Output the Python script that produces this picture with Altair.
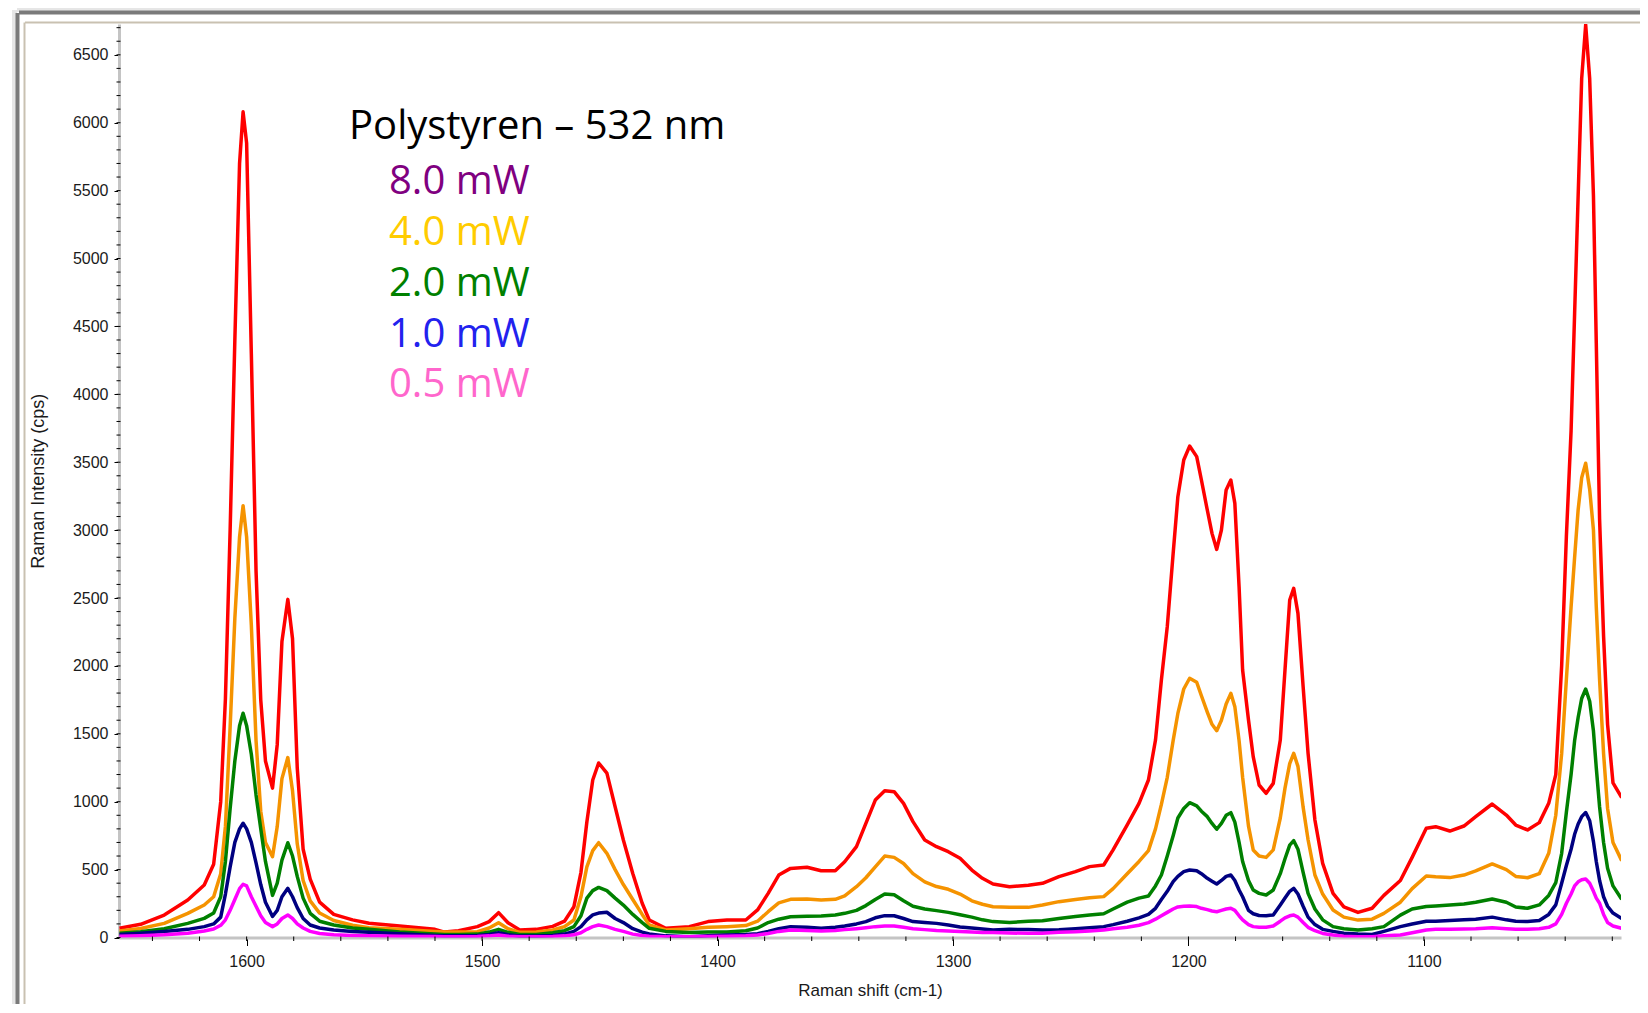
import altair as alt
import pandas as pd

# ---------------- data ----------------
shift = [1654, 1645, 1635, 1625, 1618, 1614, 1611, 1609, 1607, 1605,
         1603, 1601.5, 1600, 1598, 1596, 1594, 1592, 1589, 1587, 1585,
         1582.5, 1580.5, 1578.5, 1576, 1573, 1569, 1563, 1555, 1548, 1535,
         1520, 1516, 1510, 1502, 1497, 1493, 1489, 1484, 1477, 1470,
         1465, 1461, 1458, 1455.5, 1453, 1450.5, 1447, 1443.5, 1440, 1436,
         1432, 1429, 1422, 1412, 1404, 1396, 1388, 1383, 1378.5, 1374,
         1369, 1362, 1356, 1350, 1346, 1341, 1337, 1333, 1329, 1325,
         1321, 1317, 1312, 1307, 1302, 1297, 1292, 1287.5, 1283, 1276,
         1268, 1262, 1255, 1248, 1242, 1236, 1232, 1226, 1221, 1217,
         1214, 1211.5, 1209, 1206.5, 1204.5, 1202, 1199.5, 1196.5, 1194.5, 1192,
         1190, 1188, 1186, 1184, 1182, 1180.3, 1178.5, 1177, 1174.5, 1172.5,
         1170, 1167, 1164, 1161, 1159, 1157, 1155.3, 1153.5, 1151.3, 1149.2,
         1146.3, 1143, 1138.6, 1134, 1128, 1122, 1117, 1110, 1105, 1099,
         1095, 1089, 1083, 1078, 1071, 1065, 1061, 1056, 1051, 1047,
         1044, 1041.5, 1039.5, 1037.5, 1036, 1034.5, 1033, 1031.3, 1029.6, 1028,
         1026.8, 1025.4, 1023.7, 1022, 1019.7, 1016]

int_8mw = [68, 97, 165, 276, 387, 540, 1000, 1760, 3000, 4400,
           5700, 6080, 5850, 4300, 2700, 1750, 1300, 1100, 1420, 2180,
           2490, 2200, 1250, 650, 430, 260, 170, 130, 105, 85,
           60, 40, 50, 80, 117, 183, 109, 55, 60, 82,
           120, 227, 480, 850, 1160, 1285, 1210, 963, 718, 472,
           252, 129, 68, 80, 117, 129, 129, 203, 325, 460,
           509, 517, 492, 492, 558, 669, 841, 1012, 1081, 1074,
           988, 853, 718, 669, 632, 583, 497, 436, 394, 374,
           385, 399, 448, 485, 522, 534, 645, 829, 988, 1160,
           1454, 1896, 2289, 2829, 3246, 3516, 3619, 3541, 3369, 3148,
           2976, 2858, 3001, 3295, 3369, 3197, 2583, 1970, 1602, 1332,
           1123, 1062, 1135, 1454, 1970, 2485, 2571, 2387, 1847, 1356,
           865, 546, 325, 225, 185, 215, 310, 420, 590, 804,
           816, 784, 821, 890, 983, 902, 828, 792, 846, 988,
           1200, 2002, 2953, 3731, 4595, 5460, 6324, 6720, 6324, 5460,
           4379, 3083, 2219, 1570, 1138, 1030]

int_4mw = [48, 66, 104, 178, 239, 300, 470, 820, 1550, 2350,
           2950, 3180, 2950, 2300, 1450, 930, 700, 595, 817, 1170,
           1325, 1080, 690, 420, 270, 180, 125, 90, 72, 60,
           45, 40, 40, 43, 70, 109, 65, 38, 40, 55,
           80, 129, 301, 520, 640, 698, 620, 500, 390, 280,
           170, 92, 55, 65, 75, 80, 88, 120, 190, 255,
           281, 283, 276, 281, 306, 374, 440, 520, 600, 590,
           545, 470, 410, 375, 355, 320, 270, 245, 227, 222,
           222, 240, 264, 280, 292, 301, 360, 470, 560, 640,
           800, 980, 1180, 1450, 1650, 1830, 1909, 1880, 1780, 1660,
           1570, 1523, 1600, 1720, 1798, 1700, 1450, 1180, 820, 645,
           600, 590, 645, 880, 1100, 1280, 1356, 1260, 960, 720,
           460, 320, 203, 150, 128, 135, 178, 260, 360, 453,
           447, 441, 460, 490, 542, 500, 450, 440, 470, 620,
           900, 1354, 1900, 2435, 2800, 3150, 3385, 3493, 3300, 3000,
           2435, 1900, 1354, 950, 700, 566]

int_2mw = [31, 42, 65, 104, 141, 180, 300, 560, 950, 1300,
           1560, 1651, 1560, 1350, 1050, 800, 560, 310, 400, 570,
           698, 600, 450, 290, 178, 120, 92, 70, 60, 40,
           25, 22, 23, 25, 40, 60, 38, 23, 23, 35,
           50, 80, 160, 290, 345, 369, 345, 290, 239, 170,
           110, 68, 45, 36, 40, 41, 50, 70, 110, 135,
           153, 156, 158, 165, 178, 200, 235, 280, 320, 315,
           270, 230, 210, 198, 185, 168, 150, 130, 117, 110,
           120, 124, 140, 155, 165, 175, 210, 260, 290, 305,
           380, 460, 600, 750, 880, 950, 993, 970, 930, 890,
           840, 797, 840, 900, 919, 850, 700, 560, 420, 350,
           325, 313, 350, 470, 580, 680, 713, 650, 480, 325,
           210, 130, 80, 65, 55, 65, 80, 165, 210, 228,
           232, 240, 247, 260, 284, 260, 225, 215, 240, 310,
           404, 620, 922, 1200, 1450, 1620, 1760, 1830, 1740, 1520,
           1250, 963, 700, 510, 380, 281]

int_1mw = [22, 32, 45, 60, 80, 100, 150, 320, 520, 700,
           800, 841, 800, 700, 550, 390, 260, 155, 200, 300,
           362, 300, 220, 140, 92, 70, 55, 45, 38, 28,
           15, 12, 12, 14, 22, 36, 20, 11, 11, 15,
           25, 45, 80, 130, 166, 180, 186, 140, 110, 65,
           40, 26, 12, 6, 12, 18, 22, 28, 45, 65,
           80, 75, 68, 75, 85, 100, 117, 145, 161, 160,
           140, 117, 110, 104, 92, 78, 70, 62, 55, 60,
           58, 55, 57, 65, 72, 80, 95, 120, 145, 170,
           215, 280, 340, 411, 450, 485, 497, 492, 470, 436,
           415, 394, 420, 450, 460, 420, 350, 300, 200, 175,
           162, 160, 166, 240, 290, 340, 362, 320, 230, 150,
           95, 60, 45, 32, 25, 22, 45, 80, 100, 120,
           120, 125, 130, 135, 150, 130, 120, 118, 125, 170,
           240, 400, 530, 650, 760, 836, 890, 920, 860, 706,
           560, 420, 300, 230, 180, 140]

int_05mw = [10, 13, 20, 31, 48, 62, 90, 130, 200, 280,
            360, 392, 380, 300, 230, 160, 110, 80, 100, 140,
            166, 140, 100, 70, 45, 30, 20, 15, 12, 10,
            8, 6, 6, 8, 12, 18, 10, 6, 6, 8,
            12, 20, 35, 60, 80, 92, 80, 60, 45, 25,
            14, 10, 6, 5, 8, 10, 12, 18, 30, 45,
            55, 52, 48, 52, 58, 65, 72, 80, 85, 85,
            75, 65, 58, 52, 48, 44, 40, 36, 36, 33,
            31, 32, 38, 42, 48, 55, 65, 75, 90, 110,
            135, 160, 185, 210, 225, 230, 232, 228, 215, 205,
            195, 190, 200, 210, 215, 200, 160, 130, 95, 80,
            75, 75, 85, 120, 145, 160, 166, 150, 110, 75,
            50, 30, 18, 10, 6, 6, 12, 18, 35, 55,
            60, 60, 62, 65, 72, 65, 60, 60, 65, 75,
            100, 170, 252, 320, 380, 410, 425, 431, 400, 340,
            290, 252, 170, 110, 85, 68]

series_names = ["8.0 mW", "4.0 mW", "2.0 mW", "1.0 mW", "0.5 mW"]
series_values = [int_8mw, int_4mw, int_2mw, int_1mw, int_05mw]
line_colors = ["#ff0000", "#f59300", "#008000", "#000080", "#ff00ff"]
label_colors = ["#800080", "#ffcc00", "#008000", "#2222ee", "#ff66cc"]
title_text = "Polystyren \u2013 532 nm"

x_ticks = [1600, 1500, 1400, 1300, 1200, 1100]
y_ticks = list(range(0, 6501, 500))
x_minor = list(range(1640, 1019, -20))
y_minor = list(range(0, 6701, 100))

for v in series_values:
    assert len(v) == len(shift), (len(v), len(shift))

# ---------------- layout constants ----------------
W, H = 1502, 913.5
FONT = "Liberation Sans"
xscale = alt.Scale(domain=[1016.3, 1654.2], reverse=True, nice=False, zero=False)
yscale = alt.Scale(domain=[0, 6727], nice=False, zero=False)

x_axis = alt.Axis(values=x_ticks, format="d", title="Raman shift (cm-1)", grid=False,
                  labelFont=FONT, labelFontSize=16, labelColor="#1a1a1a", labelPadding=8,
                  labelFlush=False, tickColor="#000000", tickSize=8, tickWidth=1,
                  domainColor="#c4c4c4", domainWidth=3,
                  titleFont=FONT, titleFontSize=17, titleFontWeight="normal",
                  titleColor="#1a1a1a", titleY=52.5, titleBaseline="middle")
y_axis = alt.Axis(values=y_ticks, format="d", title="Raman Intensity (cps)", grid=False,
                  labelFont=FONT, labelFontSize=16, labelColor="#1a1a1a", labelPadding=6,
                  labelFlush=False, tickColor="#000000", tickSize=5, tickWidth=1,
                  domainColor="#c4c4c4", domainWidth=3,
                  titleFont=FONT, titleFontSize=18, titleFontWeight="normal",
                  titleColor="#1a1a1a", titleX=-81, titleY=H / 2, titleBaseline="middle")

# spectra first so that they own the axes
line_layers = []
for name, vals, col in zip(series_names, series_values, line_colors):
    df = pd.DataFrame({"shift": shift, "intensity": vals, "power": name})
    line_layers.append(
        alt.Chart(df).mark_line(color=col, strokeWidth=3.5, clip=True, strokeJoin="round").encode(
            x=alt.X("shift:Q", scale=xscale, axis=x_axis),
            y=alt.Y("intensity:Q", scale=yscale, axis=y_axis),
        )
    )

# window-like frame decoration
one = pd.DataFrame({"a": [0]})
def hline(y, x1, x2, color, w):
    return alt.Chart(one).mark_rule(color=color, strokeWidth=w).encode(
        x=alt.value(x1), x2=alt.value(x2), y=alt.value(y))
def vline(x, y1, y2, color, w):
    return alt.Chart(one).mark_rule(color=color, strokeWidth=w).encode(
        y=alt.value(y1), y2=alt.value(y2), x=alt.value(x))

deco = [
    hline(-14.5, -102, 1540, "#e6e6e6", 5),
    hline(-11.5, -100, 1540, "#7a7a7a", 4),
    hline(-1.5, -94, 1540, "#c9c1b1", 2),
    vline(-104.5, -14, 990, "#e6e6e6", 5),
    vline(-101.5, -11, 990, "#7a7a7a", 4),
    vline(-94.5, -1.5, 990, "#c9c1b1", 2),
]

# minor ticks (same axis objects so the shared axes merge cleanly)
minor_y = alt.Chart(pd.DataFrame({"v": y_minor})).mark_rule(color="#000000", strokeWidth=1).encode(
    y=alt.Y("v:Q", scale=yscale, axis=y_axis), x=alt.value(-2.5), x2=alt.value(1.5))
minor_x = alt.Chart(pd.DataFrame({"v": x_minor})).mark_rule(color="#000000", strokeWidth=1).encode(
    x=alt.X("v:Q", scale=xscale, axis=x_axis), y=alt.value(H - 1), y2=alt.value(H + 3.5))

# annotation text
texts = [
    alt.Chart(pd.DataFrame({"t": [title_text]})).mark_text(
        font="Open Sans", fontSize=40, color="#000000", align="left", baseline="alphabetic"
    ).encode(text="t:N", x=alt.value(230), y=alt.value(115))
]
label_baselines = [169.5, 220.5, 271.5, 322.5, 373]
for name, col, yb in zip(series_names, label_colors, label_baselines):
    texts.append(
        alt.Chart(pd.DataFrame({"t": [name]})).mark_text(
            font="Open Sans", fontSize=40, color=col, align="left", baseline="alphabetic"
        ).encode(text="t:N", x=alt.value(270), y=alt.value(yb))
    )

chart = alt.layer(*line_layers, minor_y, minor_x, *deco, *texts).properties(
    width=W, height=H,
    autosize=alt.AutoSizeParams(type="none"),
    padding={"left": 111, "top": 16, "right": 19, "bottom": 66},
    background="#ffffff",
).configure_view(stroke=None)

chart.save("out.html", embed_options={"renderer": "svg", "actions": False})
